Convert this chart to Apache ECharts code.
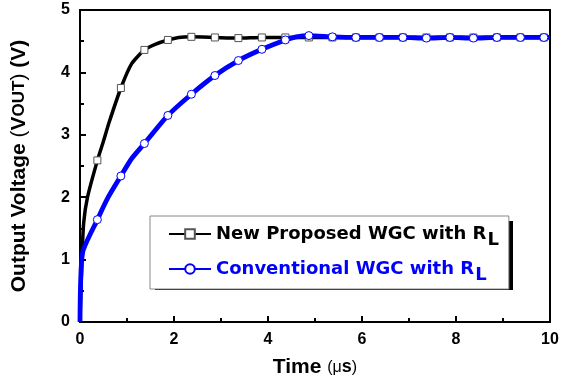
<!DOCTYPE html>
<html>
<head>
<meta charset="utf-8">
<script src="https://cdn.jsdelivr.net/npm/echarts@6/dist/echarts.min.js"></script>
<style>
html,body{margin:0;padding:0;background:#fff;}
#chart{width:571px;height:385px;}
</style>
</head>
<body>
<div id="chart"></div>
<script>
// ---- data ----
const seriesNames = ['New Proposed WGC with R_L', 'Conventional WGC with R_L'];
// marker positions (time in µs) and values (V)
const markerTimes = [0.37, 0.87, 1.37, 1.87, 2.37, 2.87, 3.37, 3.87, 4.37, 4.87,
                     5.37, 5.87, 6.37, 6.87, 7.37, 7.87, 8.37, 8.87, 9.37, 9.87];
const newMarkerV  = [2.59, 3.75, 4.36, 4.52, 4.57, 4.56, 4.55, 4.56, 4.56, 4.56,
                     4.56, 4.56, 4.56, 4.56, 4.56, 4.56, 4.56, 4.56, 4.56, 4.56];
const convMarkerV = [1.64, 2.34, 2.86, 3.31, 3.65, 3.95, 4.19, 4.37, 4.52, 4.59,
                     4.57, 4.56, 4.56, 4.56, 4.55, 4.56, 4.55, 4.56, 4.56, 4.56];
// intermediate curve points (no markers drawn there)
const newLineT  = [0, 0.04, 0.08, 0.16, 0.5, 0.62, 1.1, 1.6, 2.1, 10];
const newLineV  = [0, 1.0, 1.6, 2.0, 2.9, 3.2, 4.14, 4.45, 4.56, 4.56];
const convLineT = [0, 0.055, 0.6, 1.1, 4.6, 10];
const convLineV = [0, 1.11, 2.0, 2.62, 4.57, 4.56];
const xTicks = [0, 2, 4, 6, 8, 10];
const yTicks = [0, 1, 2, 3, 4, 5];

function build(lineT, lineV, mT, mV) {
  const d = [];
  lineT.forEach((t, i) => d.push({ value: [t, lineV[i]], symbol: 'none' }));
  mT.forEach((t, i) => d.push({ value: [t, mV[i]] }));
  d.sort((a, b) => a.value[0] - b.value[0]);
  return d;
}

const FONT = '"Liberation Sans", Arial, sans-serif';
const LFONT = '"DejaVu Sans", "Liberation Sans", Arial, sans-serif';
const chart = echarts.init(document.getElementById('chart'), null, { renderer: 'canvas' });

chart.setOption({
  animation: false,
  backgroundColor: '#fff',
  grid: { left: 80, right: 21, top: 10, bottom: 63, show: true, borderColor: '#000', borderWidth: 2 },
  graphic: [{
    type: 'rect', left: 155, top: 221, z: 90, silent: true,
    shape: { width: 358, height: 69 },
    style: { fill: '#000' }
  }],
  xAxis: {
    type: 'value', min: xTicks[0], max: xTicks[xTicks.length - 1], interval: 2,
    axisLine: { lineStyle: { color: '#000', width: 2 } },
    axisTick: { inside: true, length: 6, lineStyle: { color: '#000', width: 2 } },
    minorTick: { show: true, splitNumber: 2, length: 4, lineStyle: { color: '#000', width: 2 } },
    splitLine: { show: false },
    axisLabel: { color: '#000', fontFamily: FONT, fontWeight: 'bold', fontSize: 16, margin: 10 },
    name: '{t|Time }{p|(μ}{s|s}{p|)}',
    nameLocation: 'middle', nameGap: 35,
    nameTextStyle: {
      rich: {
        t: { fontFamily: FONT, fontWeight: 'bold', fontSize: 21, color: '#000' },
        p: { fontFamily: FONT, fontSize: 16, color: '#000' },
        s: { fontFamily: FONT, fontWeight: 'bold', fontSize: 18, color: '#000' }
      }
    }
  },
  yAxis: {
    type: 'value', min: yTicks[0], max: yTicks[yTicks.length - 1], interval: 1,
    axisLine: { lineStyle: { color: '#000', width: 2 } },
    axisTick: { inside: true, length: 6, lineStyle: { color: '#000', width: 2 } },
    minorTick: { show: true, splitNumber: 2, length: 4, lineStyle: { color: '#000', width: 2 } },
    splitLine: { show: false },
    axisLabel: { color: '#000', fontFamily: FONT, fontWeight: 'bold', fontSize: 16, margin: 10 },
    name: '{t|Output Voltage }{p|(}{t|V}{o|OUT}{p|)}{t| (V)}',
    nameLocation: 'middle', nameGap: 50, nameRotate: 90,
    nameTextStyle: {
      rich: {
        t: { fontFamily: FONT, fontWeight: 'bold', fontSize: 21, color: '#000' },
        o: { fontFamily: FONT, fontWeight: 'bold', fontSize: 17, color: '#000' },
        p: { fontFamily: FONT, fontSize: 21, color: '#000' }
      }
    }
  },
  legend: {
    orient: 'vertical', left: 150, top: 216, z: 100,
    padding: [9, 10, 5, 18], itemGap: 11, itemWidth: 42, itemHeight: 12,
    backgroundColor: '#fff', borderColor: '#888', borderWidth: 1,
    data: [
      { name: seriesNames[0], textStyle: { color: '#000' } },
      { name: seriesNames[1], textStyle: { color: '#0000ff' } }
    ],
    formatter: function (name) {
      return name === seriesNames[0]
        ? '{a|New Proposed WGC with R}{as|L}'
        : '{b|Conventional WGC with R}{bs|L}';
    },
    textStyle: {
      rich: {
        a: { fontFamily: LFONT, fontWeight: 'bold', fontSize: 18, color: '#000' },
        as: { fontFamily: LFONT, fontWeight: 'bold', fontSize: 18, color: '#000', padding: [12, 0, 0, 1] },
        b: { fontFamily: LFONT, fontWeight: 'bold', fontSize: 18, color: '#0000ff' },
        bs: { fontFamily: LFONT, fontWeight: 'bold', fontSize: 18, color: '#0000ff', padding: [12, 0, 0, 1] }
      }
    }
  },
  series: [
    {
      name: seriesNames[0], type: 'line', smooth: 0.2,
      data: build(newLineT, newLineV, markerTimes, newMarkerV),
      symbol: 'rect', symbolSize: 7, showAllSymbol: true,
      lineStyle: { color: '#000', width: 3.5 },
      itemStyle: { color: '#fff', borderColor: '#555', borderWidth: 1 },
      z: 2
    },
    {
      name: seriesNames[1], type: 'line', smooth: 0.2,
      data: build(convLineT, convLineV, markerTimes, convMarkerV),
      symbol: 'circle', symbolSize: 8, showAllSymbol: true,
      lineStyle: { color: '#0000ff', width: 4.8 },
      itemStyle: { color: '#fff', borderColor: '#0000ff', borderWidth: 1 },
      z: 3
    }
  ]
});
</script>
</body>
</html>
